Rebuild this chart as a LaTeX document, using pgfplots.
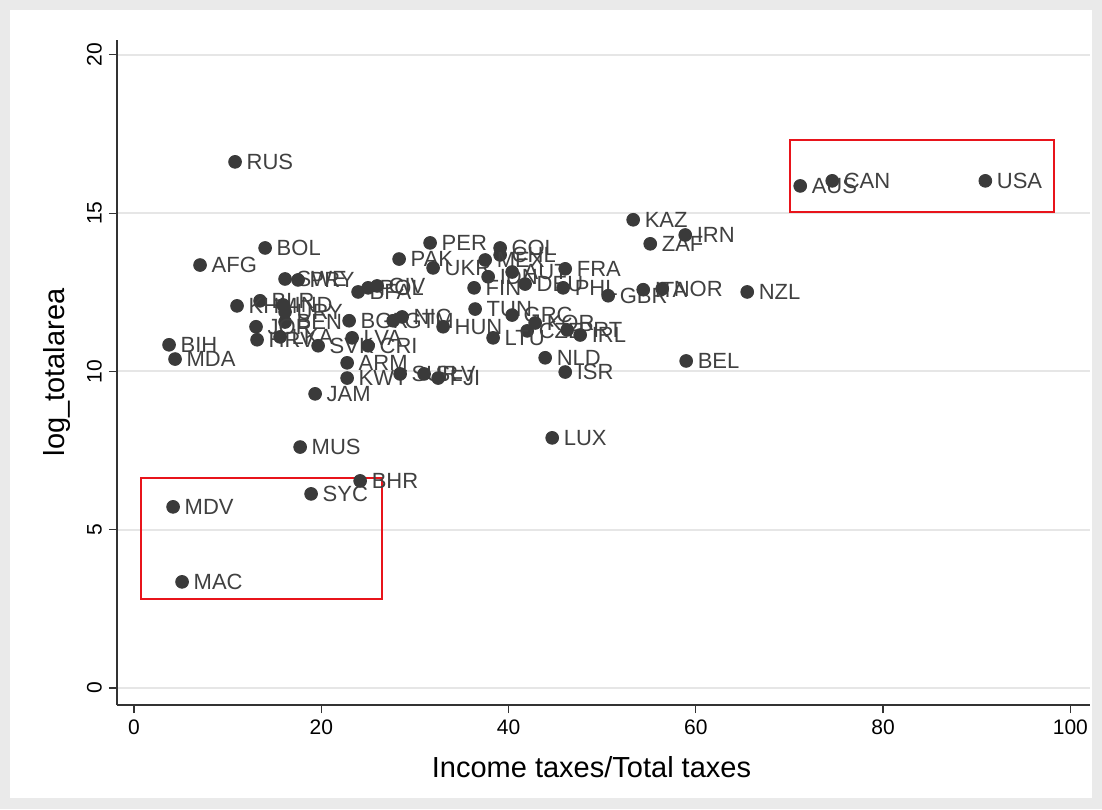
\documentclass[border=0pt]{standalone}
\usepackage{pgfplots}
\pgfplotsset{compat=1.18}
\usepackage{pgfplotstable}
\usepackage{fontspec}
\setmainfont{Liberation Sans}
\definecolor{dotc}{HTML}{3A3A3A}
\definecolor{labc}{HTML}{404040}
\definecolor{bgc}{HTML}{EAEAEA}
\definecolor{gridc}{HTML}{E6E6E6}
\definecolor{boxred}{HTML}{E8141B}
\pgfplotstableread{
x y lab
10.79 16.62 RUS
14.00 13.90 BOL
7.05 13.36 AFG
16.13 12.92 SWE
17.52 12.89 PRY
13.46 12.23 BLR
11.00 12.07 KHM
15.92 12.10 IND
16.13 11.88 URY
16.13 11.56 BEN
13.03 11.41 JOR
13.14 11.00 HRV
15.60 11.09 LKA
19.66 10.81 SVK
23.29 11.06 LVA
25.00 10.81 CRI
22.97 11.60 BGR
27.67 11.60 GTM
28.63 11.72 NIC
33.01 11.41 HUN
22.76 10.27 ARM
22.76 9.79 KWT
19.34 9.29 JAM
17.74 7.61 MUS
18.91 6.13 SYC
24.15 6.54 BHR
4.17 5.72 MDV
5.13 3.35 MAC
3.74 10.84 BIH
4.38 10.39 MDA
23.93 12.51 BFA
25.00 12.64 POL
25.96 12.70 CIV
28.31 13.55 PAK
31.62 14.06 PER
31.94 13.27 UKR
39.10 13.90 COL
39.10 13.68 CHL
37.50 13.52 MEX
37.82 12.99 IDN
40.38 13.14 AUT
41.77 12.76 DEU
46.05 13.24 FRA
45.83 12.64 PHL
36.32 12.64 FIN
36.43 11.97 TUN
40.38 11.78 GRC
42.84 11.53 KOR
41.99 11.28 CZE
46.26 11.31 PRT
47.65 11.15 IRL
38.35 11.06 LTU
43.91 10.43 NLD
46.05 9.98 ISR
44.66 7.90 LUX
58.97 10.33 BEL
50.64 12.39 GBR
54.38 12.58 ITA
56.41 12.61 NOR
65.49 12.51 NZL
53.31 14.79 KAZ
55.13 14.03 ZAF
58.87 14.31 IRN
71.15 15.86 AUS
74.57 16.02 CAN
90.92 16.02 USA
28.42 9.92 SUR
30.98 9.92 SLV
32.48 9.79 FJI
}\pts
\begin{document}
\begin{tikzpicture}
\fill[bgc] (-58.5pt,-52pt) rectangle (492.5pt,352.5pt);
\fill[white] (-53.5pt,-46.5pt) rectangle (487.5pt,347.5pt);
\begin{axis}[
  at={(0,0)}, anchor=south west,
  scale only axis, width=486.5pt, height=332.5pt,
  xmin=-1.82, xmax=102.1, ymin=-0.54, ymax=20.47,
  axis x line*=bottom, axis y line*=left,
  axis line style={black!80, line width=0.6pt},
  xtick={0,20,40,60,80,100}, ytick={0,5,10,15,20},
  tick align=outside, major tick length=4pt,
  tick style={black!80, line width=0.6pt},
  ymajorgrids, grid style={gridc, line width=1pt},
  yticklabel style={rotate=90, anchor=south},
  ticklabel style={font=\fontsize{10.5}{12}\selectfont, text=black},
  /pgf/number format/assume math mode=true,
  xlabel={Income taxes/Total taxes}, ylabel={log\_totalarea},
  label style={font=\fontsize{14.5}{16}\selectfont},
  xlabel style={yshift=-4pt, xshift=-6pt},
  ylabel style={yshift=1.5pt},
  clip=false,
]
\addplot[only marks, mark=*, mark size=3.2pt, mark options={fill=dotc, draw=dotc},
  nodes near coords, point meta=explicit symbolic,
  every node near coord/.append style={anchor=west, xshift=4.6pt, inner sep=1pt, font=\fontsize{11}{13}\selectfont, text=labc}]
  table[x=x, y=y, meta=lab] {\pts};
\draw[boxred, line width=1pt] (axis cs:70.09,17.31) rectangle (axis cs:98.29,15.04);
\draw[boxred, line width=1pt] (axis cs:0.75,6.63) rectangle (axis cs:26.5,2.81);
\end{axis}
\end{tikzpicture}
\end{document}
